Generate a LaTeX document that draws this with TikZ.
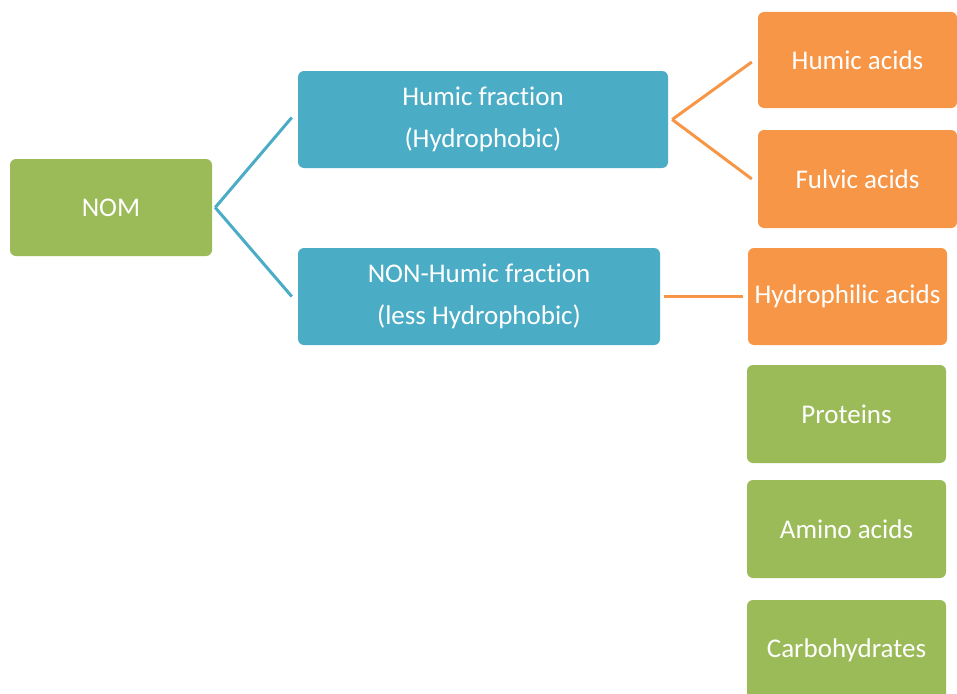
\documentclass[tikz,border=0pt]{standalone}
\usepackage{fontspec}
\setmainfont{Carlito}[Ligatures=NoCommon]
\definecolor{bluebox}{HTML}{4BACC6}
\definecolor{orangebox}{HTML}{F79646}
\definecolor{greenbox}{HTML}{9BBB59}
\begin{document}
\begin{tikzpicture}[x=1pt,y=-1pt,
  box/.style={rounded corners=6pt, inner sep=1pt, text=white, font=\fontsize{27}{42}\selectfont, align=center},
  bluen/.style={box, fill=bluebox},
  orangen/.style={box, fill=orangebox},
  greenn/.style={box, fill=greenbox},
  bline/.style={draw=bluebox, line width=3pt},
  oline/.style={draw=orangebox, line width=3pt}]
\useasboundingbox (0,0) rectangle (957,693);
\clip (0,0) rectangle (957,693);
\node[greenn, minimum width=202pt, minimum height=97pt] (nom) at (111,207.5) {NOM};
\node[bluen, minimum width=370pt, minimum height=97pt] (hf) at (483,119.5) {Humic fraction\\(Hydrophobic)};
\node[bluen, minimum width=362pt, minimum height=97pt] (nhf) at (479,296.5) {NON-Humic fraction\\(less Hydrophobic)};
\node[orangen, minimum width=199pt, minimum height=96pt] (ha) at (857.5,60) {Humic acids};
\node[orangen, minimum width=199pt, minimum height=98pt] (fa) at (857.5,179) {Fulvic acids};
\node[orangen, minimum width=199pt, minimum height=97pt] (hya) at (847.5,296.5) {Hydrophilic acids};
\node[greenn, minimum width=199pt, minimum height=98pt] (pr) at (846.5,414) {Proteins};
\node[greenn, minimum width=199pt, minimum height=98pt] (aa) at (846.5,529) {Amino acids};
\node[greenn, minimum width=199pt, minimum height=100pt] (ch) at (846.5,650) {Carbohydrates};
\coordinate (nomj) at ([xshift=3pt]nom.east);
\draw[bline] (nomj) -- ([xshift=-6pt,yshift=2pt]hf.west);
\draw[bline] (nomj) -- ([xshift=-6pt]nhf.west);
\coordinate (hfj) at ([xshift=4pt]hf.east);
\draw[oline] (hfj) -- ([xshift=-6pt,yshift=-2pt]ha.west);
\draw[oline] (hfj) -- ([xshift=-6pt]fa.west);
\draw[oline] ([xshift=4pt]nhf.east) -- ([xshift=-5pt]hya.west);
\end{tikzpicture}
\end{document}
